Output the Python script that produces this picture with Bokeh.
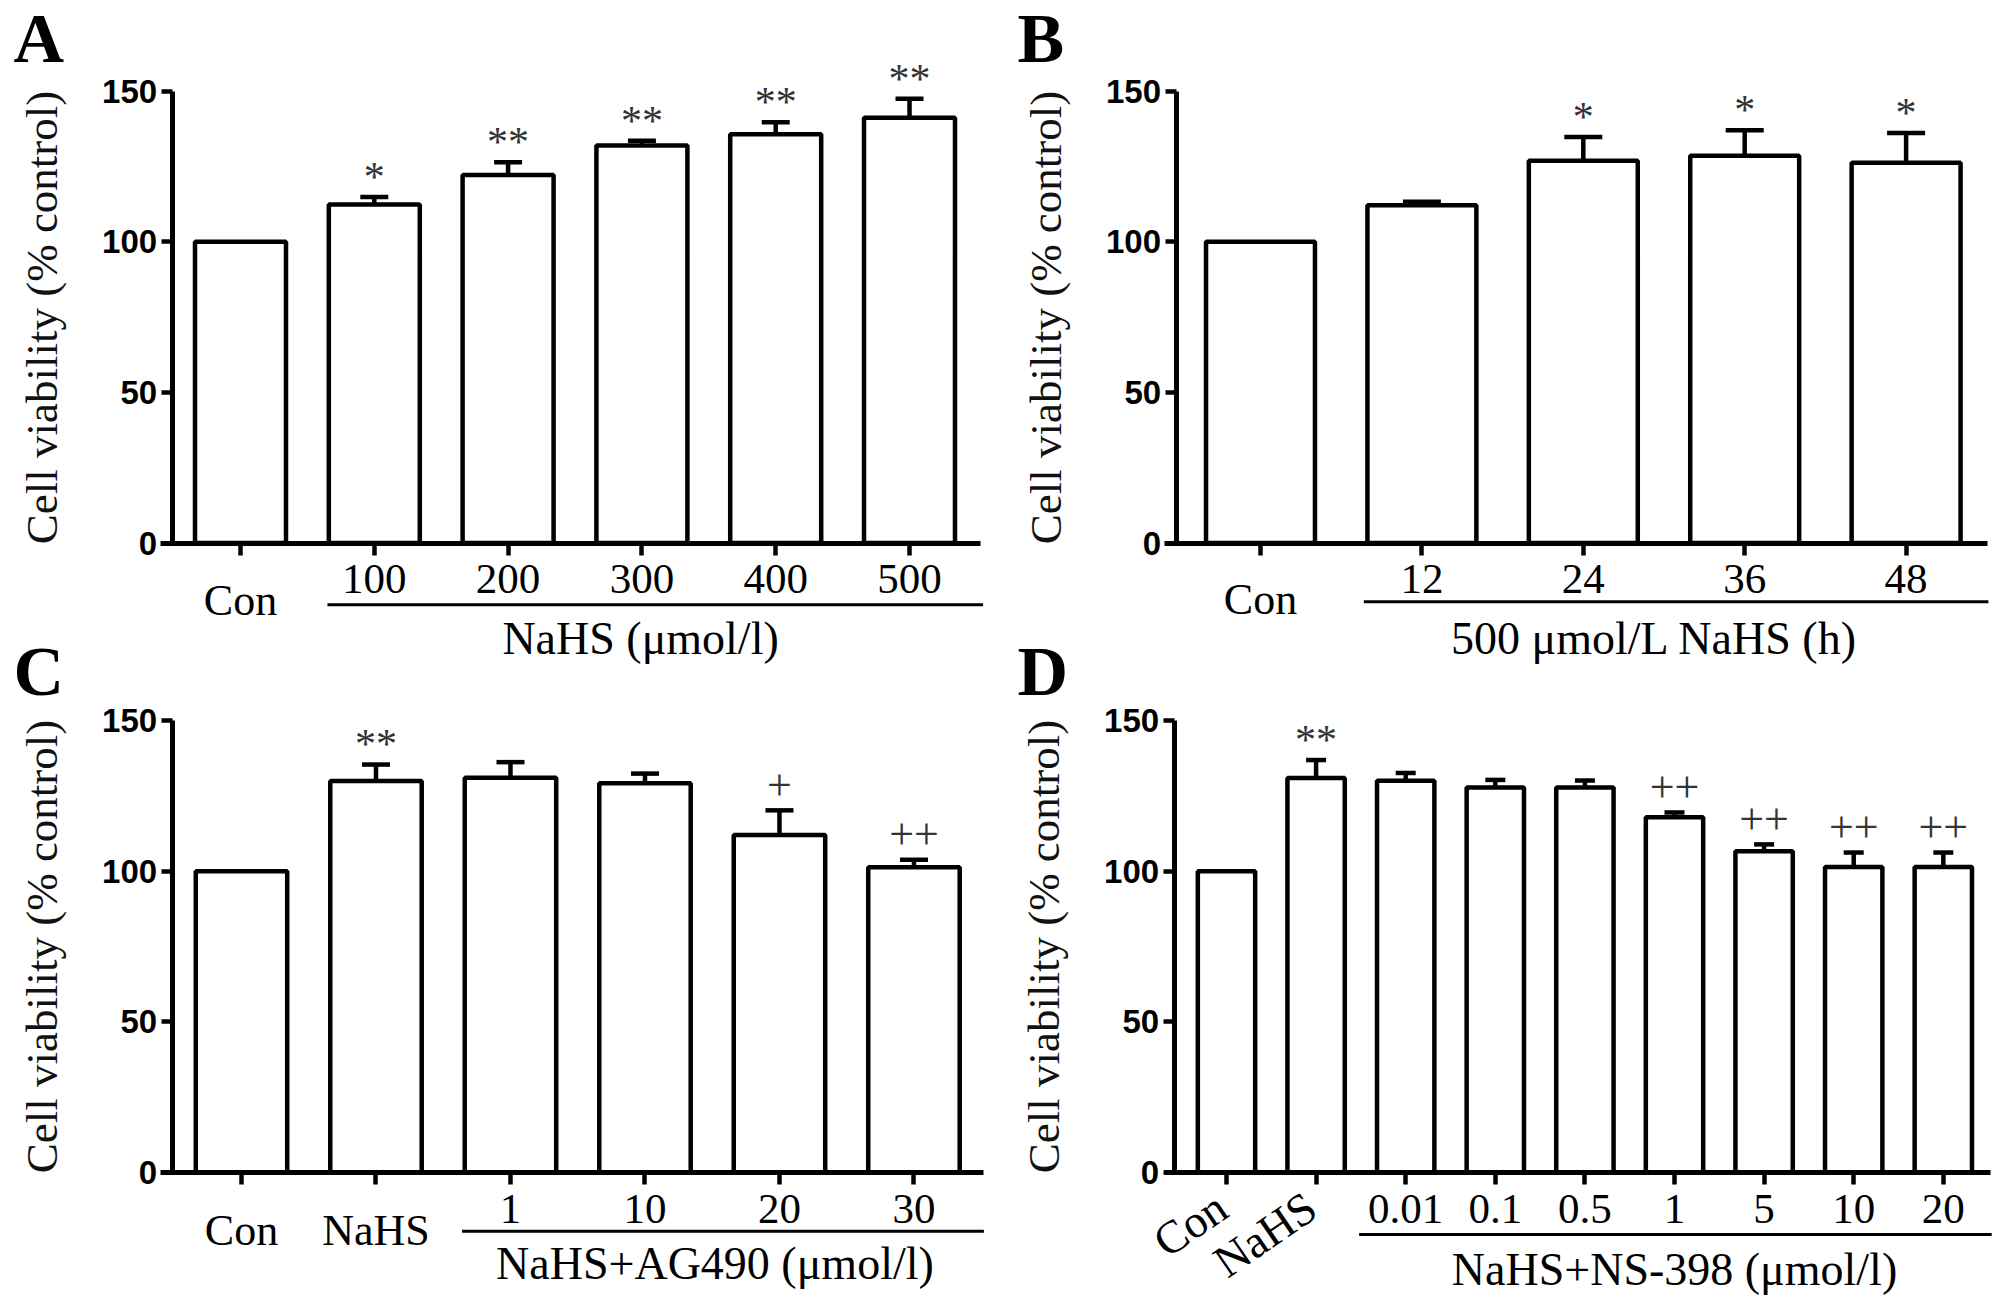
from bokeh.plotting import figure
from bokeh.models import (ColumnDataSource, FixedTicker, Range1d, Whisker, TeeHead,
                          Label, LinearAxis)
from bokeh.core.properties import value
from bokeh.embed import file_html
from bokeh.resources import INLINE

SERIF = "Liberation Serif"
SANS = "Liberation Sans"

# panel A: concentration
labels_a = ["Con", "100", "200", "300", "400", "500"]
means_a = [100, 112.4, 122.2, 132.0, 135.7, 141.2]
errs_a = [0, 2.5, 4.2, 1.5, 4.0, 6.3]
marks_a = ["", "*", "**", "**", "**", "**"]
group_a = "NaHS (μmol/l)"

# panel B: time course
labels_b = ["Con", "12", "24", "36", "48"]
means_b = [100, 112.1, 126.9, 128.6, 126.2]
errs_b = [0, 1.2, 7.9, 8.4, 9.9]
marks_b = ["", "", "*", "*", "*"]
group_b = "500 μmol/L NaHS (h)"

# panel C: AG490
labels_c = ["Con", "NaHS", "1", "10", "20", "30"]
means_c = [100, 129.9, 131.0, 129.2, 112.0, 101.3]
errs_c = [0, 5.5, 5.2, 3.2, 8.2, 2.5]
marks_c = ["", "**", "", "", "+", "++"]
group_c = "NaHS+AG490 (μmol/l)"

# panel D: NS-398
labels_d = ["Con", "NaHS", "0.01", "0.1", "0.5", "1", "5", "10", "20"]
means_d = [100, 130.9, 130.0, 127.8, 127.8, 117.9, 106.6, 101.4, 101.4]
errs_d = [0, 6.0, 2.6, 2.5, 2.3, 1.6, 2.3, 4.8, 4.8]
marks_d = ["", "**", "", "", "", "++", "++", "++", "++"]
group_d = "NaHS+NS-398 (μmol/l)"

y_ticks = [0, 50, 100, 150]

W, H = 1992, 1296

# one canvas, four panels: every panel has its own x range, rows share a y range
p = figure(width=W, height=H, x_range=Range1d(0, 1), y_range=Range1d(0, 1),
           x_axis_location=None, y_axis_location=None,
           output_backend="svg", toolbar_location=None, tools="", min_border=0)
p.grid.visible = False
p.outline_line_color = None
p.extra_x_ranges = {
    "a": Range1d(-1.7937, 13.094),
    "b": Range1d(-7.8067, 4.5353),
    "c": Range1d(-1.7918, 13.019),
    "d": Range1d(-13.683, 8.549),
}
p.extra_y_ranges = {
    "top": Range1d(-250.05, 180.09),
    "bot": Range1d(-41.15, 388.98),
}


def text_kw(rx, ry, size, color="black"):
    return dict(x_range_name=rx, y_range_name=ry, text_font=value(SERIF),
                text_font_size=size, text_color=color)


def make_panel(labels, means, errs, marks, n_words, group, cfg):
    rx, ry = cfg["rx"], cfg["ry"]
    xs = list(range(len(labels)))

    src = ColumnDataSource(dict(x=xs, top=means))
    p.vbar(x="x", top="top", bottom=0, width=cfg["bw"], source=src,
           fill_color="white", line_color="black", line_width=4.5,
           x_range_name=rx, y_range_name=ry)

    ex = [i for i in xs if errs[i] > 0]
    esrc = ColumnDataSource(dict(x=ex, lo=[means[i] for i in ex],
                                 hi=[means[i] + errs[i] for i in ex]))
    p.add_layout(Whisker(base="x", lower="lo", upper="hi", source=esrc,
                         line_color="black", line_width=4.5, lower_head=None,
                         upper_head=TeeHead(size=cfg["cap"], line_color="black", line_width=4.5),
                         x_range_name=rx, y_range_name=ry))

    # significance marks: * vs control, + vs NaHS
    sx, sy, st = [], [], []
    qx, qy, qt = [], [], []
    for i in xs:
        if not marks[i]:
            continue
        if "+" in marks[i]:
            qx.append(i)
            qy.append(means[i] + errs[i] + 8.3)
            qt.append(marks[i])
        else:
            sx.append(i)
            sy.append(means[i] + errs[i] + 6.7)
            st.append(marks[i])
    p.text(x=sx, y=sy, text=st, text_align="center", text_baseline="alphabetic",
           **text_kw(rx, ry, "42px", "#333333"))
    p.text(x=qx, y=qy, text=qt, text_align="center", text_baseline="alphabetic",
           **text_kw(rx, ry, "44px", "#333333"))

    xa = LinearAxis(x_range_name=rx, y_range_name=ry, fixed_location=0,
                    ticker=FixedTicker(ticks=xs), bounds=cfg["xb"])
    xa.major_label_overrides = {i: (labels[i] if i >= n_words else "") for i in xs}
    xa.axis_line_width = 5
    xa.major_tick_line_width = 4.5
    xa.major_tick_in = 0
    xa.major_tick_out = 12
    xa.minor_tick_line_color = None
    xa.major_label_text_font = SERIF
    xa.major_label_text_font_size = "43px"
    xa.major_label_text_color = "black"
    xa.major_label_standoff = 10
    p.add_layout(xa, "below")

    ya = LinearAxis(x_range_name=rx, y_range_name=ry, fixed_location=cfg["yloc"],
                    ticker=FixedTicker(ticks=y_ticks), bounds=(0, 150))
    ya.axis_line_width = 5
    ya.major_tick_line_width = 4.5
    ya.major_tick_in = 0
    ya.major_tick_out = 11
    ya.minor_tick_line_color = None
    ya.major_label_text_font = SANS
    ya.major_label_text_font_style = "bold"
    ya.major_label_text_font_size = "33px"
    ya.major_label_text_color = "black"
    ya.major_label_standoff = 4
    ya.axis_label = "Cell viability (% control)"
    ya.axis_label_text_font = SERIF
    ya.axis_label_text_font_style = "normal"
    ya.axis_label_text_font_size = "45px"
    ya.axis_label_text_color = "#111111"
    ya.axis_label_standoff = 32
    p.add_layout(ya, "left")

    # word labels (Con, NaHS)
    wx = xs[:n_words]
    wt = labels[:n_words]
    if cfg.get("rotate"):
        p.text(x=wx, y=[cfg["word_y"]] * n_words, text=wt, angle=0.6,
               x_offset=-19, text_align="right", text_baseline="top",
               **text_kw(rx, ry, "46px"))
    else:
        p.text(x=wx, y=[cfg["word_y"]] * n_words, text=wt,
               text_align="center", text_baseline="alphabetic",
               **text_kw(rx, ry, "44px"))

    u0, u1 = cfg["ul"]
    p.segment(x0=[u0], y0=[cfg["ul_y"]], x1=[u1], y1=[cfg["ul_y"]],
              line_color="black", line_width=3, x_range_name=rx, y_range_name=ry)
    p.text(x=[cfg["group_x"]], y=[cfg["group_y"]], text=[group],
           text_align="center", text_baseline="alphabetic", **text_kw(rx, ry, "46px"))


cfg_a = dict(rx="a", ry="top", yloc=-0.511, xb=(-0.60, 5.53), bw=0.68, cap=28,
             ul=(0.65, 5.55), ul_y=-20.5, word_y=-19.0, group_x=2.99, group_y=-31.5)
cfg_b = dict(rx="b", ry="top", yloc=-0.523, xb=(-0.595, 4.505), bw=0.675, cap=38,
             ul=(0.64, 4.51), ul_y=-19.5, word_y=-18.6, group_x=2.44, group_y=-31.5)
cfg_c = dict(rx="c", ry="bot", yloc=-0.516, xb=(-0.60, 5.52), bw=0.68, cap=28,
             ul=(1.64, 5.52), ul_y=-19.5, word_y=-19.3, group_x=3.52, group_y=-30.2)
cfg_d = dict(rx="d", ry="bot", yloc=-0.584, xb=(-0.692, 8.53), bw=0.64, cap=20,
             ul=(1.48, 8.54), ul_y=-20.6, word_y=-3.0, group_x=5.0, group_y=-32.2,
             rotate=True)

make_panel(labels_a, means_a, errs_a, marks_a, 1, group_a, cfg_a)
make_panel(labels_b, means_b, errs_b, marks_b, 1, group_b, cfg_b)
make_panel(labels_c, means_c, errs_c, marks_c, 2, group_c, cfg_c)
make_panel(labels_d, means_d, errs_d, marks_d, 2, group_d, cfg_d)

# panel letters
for letter, lx, ly in [("A", 13, 1258), ("B", 1017, 1258), ("C", 13, 625), ("D", 1017, 625)]:
    p.add_layout(Label(x=lx, y=ly, x_units="screen", y_units="screen", text=letter,
                       text_font=SERIF, text_font_style="bold", text_font_size="70px",
                       text_color="black", text_baseline="alphabetic"))

open("out.html", "w").write(file_html(p, INLINE))
